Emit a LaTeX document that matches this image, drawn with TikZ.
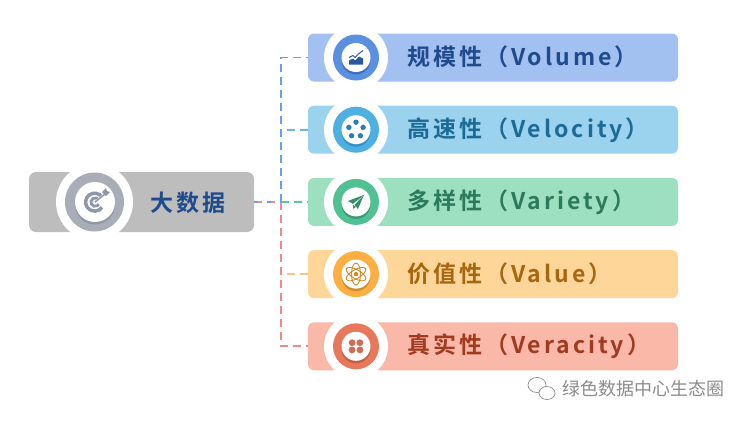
\documentclass[tikz,border=0pt]{standalone}
\usepackage{fontspec}
\newfontfamily\cjkbold[LetterSpace=13,BoldFont={Noto Sans CJK SC Bold}]{Noto Sans CJK SC}
\newfontfamily\cjkplain{Noto Sans CJK SC}
\definecolor{rootbar}{HTML}{BDBDBD}
\definecolor{rootring}{HTML}{A9ADB8}
\definecolor{rootink}{HTML}{1F4A8C}
\definecolor{rootshade}{HTML}{8F96AC}
\definecolor{volbar}{HTML}{A3C1F0}
\definecolor{volring}{HTML}{5B90E0}
\definecolor{volink}{HTML}{1F4A8C}
\definecolor{volshade}{HTML}{3F70BE}
\definecolor{velbar}{HTML}{9BD2EE}
\definecolor{velring}{HTML}{4EB0E2}
\definecolor{velink}{HTML}{1C6A96}
\definecolor{velshade}{HTML}{3690C2}
\definecolor{varbar}{HTML}{9DE0BF}
\definecolor{varring}{HTML}{4FC192}
\definecolor{varink}{HTML}{2C7A5C}
\definecolor{varshade}{HTML}{379B72}
\definecolor{valbar}{HTML}{FFD699}
\definecolor{valring}{HTML}{FFAE42}
\definecolor{valink}{HTML}{A8660F}
\definecolor{valshade}{HTML}{D08A28}
\definecolor{verbar}{HTML}{FAB8A8}
\definecolor{verring}{HTML}{E8785C}
\definecolor{verink}{HTML}{A03A20}
\definecolor{vershade}{HTML}{C25C42}
\definecolor{markgray}{HTML}{8C8C8C}
\definecolor{trunkblue}{HTML}{6A9FE8}
\definecolor{trunkred}{HTML}{F08A8A}
\definecolor{branchsky}{HTML}{6DB8DE}
\definecolor{branchgold}{HTML}{FBC48A}
\definecolor{branchgreen}{HTML}{5FC79B}
\usetikzlibrary{calc,shapes.geometric}
\tikzset{
    bar/.style = {rectangle,
                    rounded corners=6pt,
                    fill=#1,
                    minimum width=370pt,
                    minimum height=48pt,
                    inner sep=0pt},
    rootbox/.style = {rectangle,
                    rounded corners=7pt,
                    fill=rootbar,
                    minimum width=225pt,
                    minimum height=60pt,
                    inner sep=0pt},
    halo/.style = {circle,
                    fill=white,
                    minimum size=64pt,
                    inner sep=0pt},
    ring/.style = {circle,
                    fill=#1,
                    minimum size=46pt,
                    inner sep=0pt},
    face/.style = {circle,
                    fill=white,
                    minimum size=29pt,
                    inner sep=0pt,
                    preaction={fill=#1,transform canvas={yshift=-2.5pt}}},
    barlabel/.style = {anchor=west,
                    inner sep=0pt,
                    text=#1,
                    font=\fontsize{23}{25}\cjkbold\bfseries},
    link/.style = {line width=1.9pt,
                    draw=#1,
                    dash pattern=on 8pt off 5pt},
    bubble/.style = {ellipse,
                    draw=markgray,
                    line width=.7pt,
                    fill=white,
                    inner sep=0pt},
    node distance=72.2pt}
\begin{document}
\begin{tikzpicture}[x=1pt,y=-1pt]
    \useasboundingbox (0,0) rectangle (747,421);

    \node[rootbox]          (root)    at (141.5,202)  {};
    \node[bar=volbar]       (volume)  at (493,57.5)   {};
    \node[bar=velbar]       (velocity)[below of=volume]   {};
    \node[bar=varbar]       (variety) [below of=velocity] {};
    \node[bar=valbar]       (value)   [below of=variety]  {};
    \node[bar=verbar]       (veracity)[below of=value]    {};
    \coordinate             (hub)     at (281,202);

    % trunk and branches
    \draw[link=branchsky]    (hub) |- (velocity.west);
    \draw[link=trunkblue]    (hub) |- (volume.west);
    \draw[link=branchgold]   (hub) |- (value.west);
    \draw[link=trunkred]     (hub) |- (veracity.west);
    \draw[link=branchgreen]  (hub) -- (variety.west);
    \draw[link=trunkred]     (root.east) -- (hub);
    \draw[link=trunkblue,dash pattern=on 4pt off 9pt]  (root.east) -- (hub);

    \node[halo,minimum size=77pt]    (roothalo) at (94.5,202) {};
    \node[ring=rootring,minimum size=59pt]  (rootring) at (94.5,202) {};
    \node[face=rootshade,minimum size=40pt] (rootface) at (95,202) {};

    \node[halo]   (volhalo) at (356,57.5)       {};
    \node[halo]   (velhalo) [below of=volhalo]  {};
    \node[halo]   (varhalo) [below of=velhalo]  {};
    \node[halo]   (valhalo) [below of=varhalo]  {};
    \node[halo]   (verhalo) [below of=valhalo]  {};

    \node[ring=volring]  (volcirc) at (volhalo) {};
    \node[ring=velring]  (velcirc) at (velhalo) {};
    \node[ring=varring]  (varcirc) at (varhalo) {};
    \node[ring=valring]  (valcirc) at (valhalo) {};
    \node[ring=verring]  (vercirc) at (verhalo) {};

    \node[face=volshade] (volface) at (volhalo) {};
    \node[face=velshade] (velface) at (velhalo) {};
    \node[face=varshade] (varface) at (varhalo) {};
    \node[face=valshade] (valface) at (valhalo) {};
    \node[face=vershade] (verface) at (verhalo) {};

    \node[barlabel=rootink] (roottext) at (150,203) {大数据};
    \node[barlabel=volink] (voltext) at (407,57)    {规模性（Volume）};
    \node[barlabel=velink] (veltext) at (407,130)   {高速性（Velocity）};
    \node[barlabel=varink] (vartext) at (407,202)   {多样性（Variety）};
    \node[barlabel=valink] (valtext) at (407,274)   {价值性（Value）};
    \node[barlabel=verink] (vertext) at (407,346.5) {真实性（Veracity）};

    % icons
    \begin{scope}[shift={(rootface.center)}]
        \draw[line width=3.4pt,rootshade] (7,-5) arc[start angle=-35,end angle=-325,radius=9];
        \draw[line width=2.8pt,rootshade] (3.8,-2) arc[start angle=-30,end angle=-330,radius=4.2];
        \draw[line width=1.8pt,white] (0,0) -- (11,-9);
        \draw[line width=1.4pt,rootshade] (0,0) -- (10,-8);
        \fill[rootshade] (7,-10) -- (11,-14) -- (12,-11) -- (15,-10) -- (11,-6) -- cycle;
    \end{scope}
    \begin{scope}[shift={(volface.center)}]
        \fill[volink!80!volring] (-7,7) -- (-7,3) -- (-3,1) -- (-1,3) -- (3,-1) -- (7,1) -- (7,7) -- cycle;
        \draw[line width=1pt,volink!80!volring] (-7,0) -- (-3,-2) -- (-1,0) -- (3,-4) -- (7,-7);
    \end{scope}
    \begin{scope}[shift={(velface.center)},velink!70!velring]
        \foreach \a in {-90,-162,-234,-306,-18}
            \fill (\a:7.5) circle (2.7);
    \end{scope}
    \begin{scope}[shift={(varface.center)}]
        \fill[varink!70!varring] (8,-7) -- (-8,-1) -- (-3,2) -- cycle;
        \fill[varink!70!varring] (8,-7) -- (-1.5,3) -- (2,7) -- cycle;
        \fill[varink!70!varring] (-3,3) -- (-3,7) -- (0,5) -- cycle;
    \end{scope}
    \begin{scope}[shift={(valface.center)},valshade]
        \draw[line width=.9pt] (0,0) ellipse (4.5 and 11);
        \draw[line width=.9pt,rotate=60] (0,0) ellipse (4.5 and 11);
        \draw[line width=.9pt,rotate=120] (0,0) ellipse (4.5 and 11);
        \fill (0,0) circle (2.2);
    \end{scope}
    \begin{scope}[shift={(verface.center)},verring!90!black]
        \foreach \u/\v in {-1/-1,1/-1,-1/1,1/1}
            \fill (\u*3.9,\v*3.6) circle (3.4);
    \end{scope}

    % mark
    \node[anchor=west,inner sep=0pt,text=markgray,font=\fontsize{18}{20}\cjkplain] (marktext) at (562,389) {绿色数据中心生态圈};
    \node[bubble,minimum width=18pt,minimum height=15pt] (bubbleA) at (537,385) {};
    \node[bubble,minimum width=16pt,minimum height=13pt] (bubbleB) at (547,393) {};
\end{tikzpicture}
\end{document}
